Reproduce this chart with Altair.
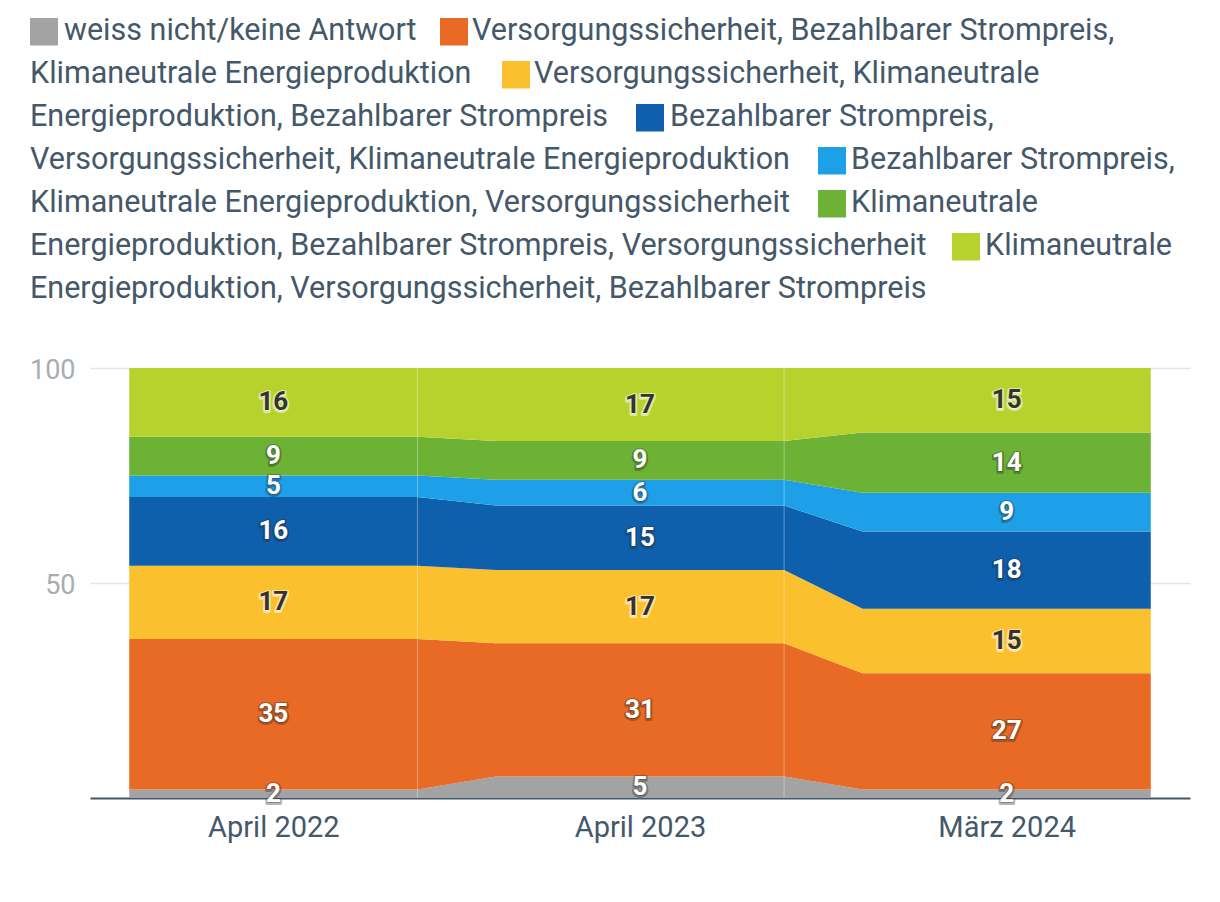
import json
import altair as alt
import pandas as pd

# ---------------- data ----------------
categories = ["April 2022", "April 2023", "März 2024"]

series = [
    "weiss nicht/keine Antwort",
    "Versorgungssicherheit, Bezahlbarer Strompreis, Klimaneutrale Energieproduktion",
    "Versorgungssicherheit, Klimaneutrale Energieproduktion, Bezahlbarer Strompreis",
    "Bezahlbarer Strompreis, Versorgungssicherheit, Klimaneutrale Energieproduktion",
    "Bezahlbarer Strompreis, Klimaneutrale Energieproduktion, Versorgungssicherheit",
    "Klimaneutrale Energieproduktion, Bezahlbarer Strompreis, Versorgungssicherheit",
    "Klimaneutrale Energieproduktion, Versorgungssicherheit, Bezahlbarer Strompreis",
]

v_weiss_nicht = [2, 5, 2]
v_vs_bs_ke = [35, 31, 27]
v_vs_ke_bs = [17, 17, 15]
v_bs_vs_ke = [16, 15, 18]
v_bs_ke_vs = [5, 6, 9]
v_ke_bs_vs = [9, 9, 14]
v_ke_vs_bs = [16, 17, 15]

values = [v_weiss_nicht, v_vs_bs_ke, v_vs_ke_bs, v_bs_vs_ke, v_bs_ke_vs, v_ke_bs_vs, v_ke_vs_bs]

colors = ["#a3a3a3", "#e86a24", "#fbc02d", "#0e5fac", "#1ea0e8", "#6cb335", "#b8d22d"]
dark_text = [False, False, True, False, False, False, True]

# ---------------- styling / layout ----------------
FONT = "Roboto"
TEXT_COLOR = "#44586a"
HALF = 0.393            # half width of the flat part of each band (in category units)
PLOT_LEFT, PLOT_TOP = 90, 368
W, H = 1100, 430

# legend: flowing lines, (kind, ref, page-x)
legend_lines = [
    [("sw", 0, 30), ("tx", "weiss nicht/keine Antwort", 64),
     ("sw", 1, 440), ("tx", "Versorgungssicherheit, Bezahlbarer Strompreis,", 472)],
    [("tx", "Klimaneutrale Energieproduktion", 30),
     ("sw", 2, 502), ("tx", "Versorgungssicherheit, Klimaneutrale", 534)],
    [("tx", "Energieproduktion, Bezahlbarer Strompreis", 30),
     ("sw", 3, 636), ("tx", "Bezahlbarer Strompreis,", 670)],
    [("tx", "Versorgungssicherheit, Klimaneutrale Energieproduktion", 30),
     ("sw", 4, 818), ("tx", "Bezahlbarer Strompreis,", 851)],
    [("tx", "Klimaneutrale Energieproduktion, Versorgungssicherheit", 30),
     ("sw", 5, 818), ("tx", "Klimaneutrale", 851)],
    [("tx", "Energieproduktion, Bezahlbarer Strompreis, Versorgungssicherheit", 30),
     ("sw", 6, 952), ("tx", "Klimaneutrale", 985)],
    [("tx", "Energieproduktion, Versorgungssicherheit, Bezahlbarer Strompreis", 30)],
]
LEG_BASE0, LEG_STEP = 39.5, 43
LEG_FONT_SIZE = 30.5
SW_W, SW_UP, SW_DOWN = 28, 21.5, 6

# ---------------- tables ----------------
area_rows = []
label_rows = []
for s_i, name in enumerate(series):
    for c_i, cat in enumerate(categories):
        for dx in (-HALF, HALF):
            area_rows.append(dict(x=c_i + dx, series=name, order=s_i, value=values[s_i][c_i]))
        label_rows.append(dict(
            x=c_i, series=name, order=s_i, value=values[s_i][c_i],
            fg="#333333" if dark_text[s_i] else "#ffffff",
            halo="rgba(255,255,255,0.55)" if dark_text[s_i] else "rgba(40,40,40,0.35)",
        ))
df_area = pd.DataFrame(area_rows)
df_lab = pd.DataFrame(label_rows)
df_rules = pd.DataFrame({"x": [i + HALF for i in range(len(categories) - 1)]})

leg_text_rows, leg_sw_rows = [], []
for li, line in enumerate(legend_lines):
    base = LEG_BASE0 + li * LEG_STEP
    for kind, ref, px in line:
        if kind == "tx":
            leg_text_rows.append(dict(lx=px - PLOT_LEFT, ly=base - PLOT_TOP, txt=ref))
        else:
            leg_sw_rows.append(dict(lx=px - PLOT_LEFT, lx2=px + SW_W - PLOT_LEFT,
                                    ly=base - SW_UP - PLOT_TOP, ly2=base + SW_DOWN - PLOT_TOP,
                                    col=colors[ref]))
df_leg_text = pd.DataFrame(leg_text_rows)
df_leg_sw = pd.DataFrame(leg_sw_rows)

# ---------------- chart ----------------
label_expr = json.dumps(categories) + "[round(datum.value)]"

x_enc = alt.X(
    "x:Q",
    scale=alt.Scale(domain=[-0.5, len(categories) - 0.5], nice=False, zero=False),
    axis=alt.Axis(values=list(range(len(categories))), labelExpr=label_expr, title=None,
                  grid=False, ticks=False, domainColor=TEXT_COLOR, domainWidth=2,
                  labelFontSize=29, labelColor=TEXT_COLOR, labelFont=FONT,
                  labelPadding=15, labelBaseline="top"),
)
y_scale = alt.Scale(domain=[0, 100], nice=False)

area = alt.Chart(df_area).mark_area(interpolate="linear").encode(
    x=x_enc,
    y=alt.Y("value:Q", stack="zero", scale=y_scale,
            axis=alt.Axis(values=[50, 100], title=None, domain=False, ticks=False,
                          grid=True, gridColor="#e6e6e6", gridWidth=1.5,
                          labelFontSize=27, labelColor="#a8adb2", labelFont=FONT,
                          labelPadding=15, labelOffset=2)),
    color=alt.Color("series:N", scale=alt.Scale(domain=series, range=colors), legend=None),
    order=alt.Order("order:Q", sort="ascending"),
)

rules = alt.Chart(df_rules).mark_rule(color="white", opacity=0.35, strokeWidth=1).encode(
    x=alt.X("x:Q")
)

lab_base = alt.Chart(df_lab).transform_stack(
    stack="value", groupby=["x"], sort=[alt.SortField("order", "ascending")], as_=["y0", "y1"]
).transform_calculate(mid="(datum.y0 + datum.y1) / 2")

halo = lab_base.mark_text(font=FONT, fontSize=26, fontWeight="bold", strokeWidth=4,
                          strokeJoin="round", dy=1).encode(
    x=alt.X("x:Q"),
    y=alt.Y("mid:Q"),
    text=alt.Text("value:Q", format="d"),
    color=alt.Color("halo:N", scale=None),
    stroke=alt.Stroke("halo:N", scale=None),
)
labels = lab_base.mark_text(font=FONT, fontSize=26, fontWeight="bold").encode(
    x=alt.X("x:Q"),
    y=alt.Y("mid:Q"),
    text=alt.Text("value:Q", format="d"),
    color=alt.Color("fg:N", scale=None),
)

leg_sw = alt.Chart(df_leg_sw).mark_rect().encode(
    x=alt.X("lx:Q", scale=None), x2="lx2:Q",
    y=alt.Y("ly:Q", scale=None), y2="ly2:Q",
    color=alt.Color("col:N", scale=None),
)
leg_tx = alt.Chart(df_leg_text).mark_text(font=FONT, fontSize=LEG_FONT_SIZE, align="left",
                                          baseline="alphabetic", color=TEXT_COLOR).encode(
    x=alt.X("lx:Q", scale=None),
    y=alt.Y("ly:Q", scale=None),
    text="txt:N",
)

chart = alt.layer(area, rules, halo, labels, leg_sw, leg_tx).properties(
    width=W, height=H,
    background="white",
    autosize=alt.AutoSizeParams(type="none"),
    padding={"left": PLOT_LEFT - 8, "top": PLOT_TOP - 8, "right": 22, "bottom": 90},
).configure_view(stroke="transparent")

chart.save("out.html", embed_options={"renderer": "svg", "actions": False})
